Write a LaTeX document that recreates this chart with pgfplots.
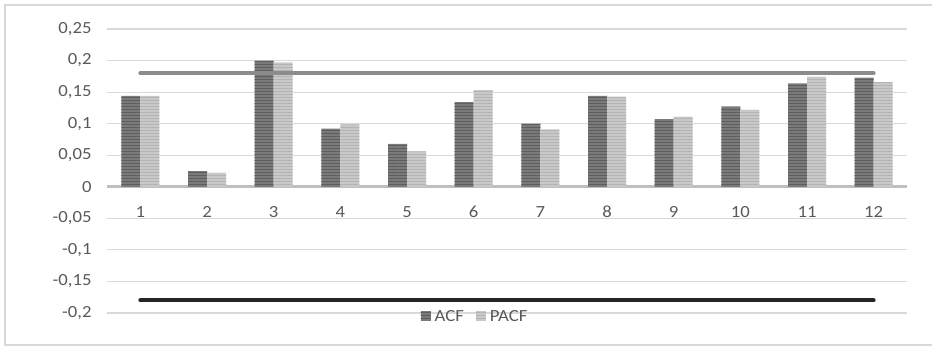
\documentclass[border=0pt]{standalone}
\usepackage{fontspec}
\setmainfont{Carlito}[FakeStretch=1.1]
\usepackage{pgfplots}
\pgfplotsset{compat=1.18}
\usetikzlibrary{patterns}
\definecolor{acf}{HTML}{7A7A7A}
\definecolor{acfstripe}{HTML}{5E5E5E}
\definecolor{pacf}{HTML}{C8C8C8}
\definecolor{pacfstripe}{HTML}{B4B4B4}
\definecolor{gridc}{HTML}{D9D9D9}
\definecolor{zeroc}{HTML}{BFBFBF}
\definecolor{txt}{HTML}{595959}
\definecolor{upper}{HTML}{8C8C8C}
\definecolor{lower}{HTML}{262626}
\newcommand\lbl{\fontsize{17bp}{20bp}\selectfont}
\begin{document}
\begin{tikzpicture}
\useasboundingbox (0,0) rectangle (932bp,346bp);
\draw[gridc, line width=1.2bp] (5bp,1bp) rectangle (940bp,341bp);
\begin{axis}[
  at={(107bp,33bp)}, anchor=south west,
  scale only axis, width=800bp, height=284bp,
  xmin=0.5, xmax=12.5, ymin=-0.2, ymax=0.25,
  axis x line=middle, axis y line=left,
  x axis line style={-, line width=3bp, color=zeroc},
  y axis line style={draw=none},
  xtick={1,...,12}, ytick={-0.2,-0.15,...,0.25},
  major tick length=0pt,
  ymajorgrids, grid style={gridc, line width=1.2bp},
  /pgf/number format/use comma, /pgf/number format/fixed,
  /pgf/number format/precision=2, /pgf/number format/assume math mode=true,
  ticklabel style={font=\lbl, text=txt},
  xticklabel style={yshift=-16bp},
  yticklabel style={xshift=-12bp},
  legend columns=2,
  legend style={draw=none, fill=none, at={(rel axis cs:0.46,-0.012)}, anchor=center,
    font=\lbl, text=txt, /tikz/every even column/.append style={column sep=10bp}},
  clip=false,
]
\addplot[ybar, bar width=19bp, bar shift=-9.5bp, draw=none, fill=acf,
  postaction={pattern=horizontal lines, pattern color=acfstripe},
  legend image code/.code={\fill[acf] (0bp,-4.5bp) rectangle (10bp,5.5bp); \path (12bp,0);}]
  coordinates {(1,0.144) (2,0.025) (3,0.200) (4,0.092) (5,0.068) (6,0.134)
               (7,0.100) (8,0.144) (9,0.107) (10,0.127) (11,0.164) (12,0.173)};
\addlegendentry{ACF}
\addplot[ybar, bar width=19bp, bar shift=9.5bp, draw=none, fill=pacf,
  postaction={pattern=horizontal lines, pattern color=pacfstripe},
  legend image code/.code={\fill[pacf] (0bp,-4.5bp) rectangle (10bp,5.5bp); \path (12bp,0);}]
  coordinates {(1,0.144) (2,0.022) (3,0.197) (4,0.099) (5,0.056) (6,0.153)
               (7,0.091) (8,0.143) (9,0.111) (10,0.122) (11,0.174) (12,0.166)};
\addlegendentry{PACF}
\addplot[upper, line width=4bp, line cap=round, forget plot] coordinates {(1,0.18) (12,0.18)};
\addplot[lower, line width=4bp, line cap=round, forget plot] coordinates {(1,-0.18) (12,-0.18)};
\end{axis}
\end{tikzpicture}
\end{document}
